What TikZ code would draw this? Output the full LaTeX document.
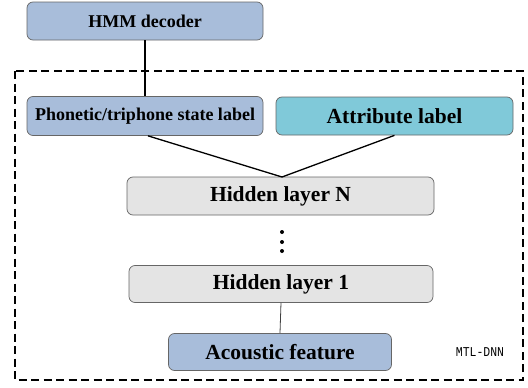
\documentclass[tikz,border=0pt]{standalone}
\usepackage{fontspec}
\setmainfont{Liberation Serif}
\newfontfamily\monofam{Liberation Mono}
\begin{document}
\begin{tikzpicture}[x=1pt,y=-1pt,
  box/.style={draw=black!60, line width=0.7pt, rounded corners=6pt, inner sep=0pt, font=\bfseries},
  bluebox/.style={box, fill=blueA},
  cyanbox/.style={box, fill=cyanA},
  graybox/.style={box, fill=grayA},
  conn/.style={line width=1.3pt, black},
  thinconn/.style={line width=0.8pt, black!75},
  frame/.style={line width=1.1pt, dash pattern=on 8pt off 4.5pt}
]
\definecolor{blueA}{HTML}{A8BDDA}
\definecolor{cyanA}{HTML}{80C9D9}
\definecolor{grayA}{HTML}{E4E4E4}
\useasboundingbox (0,0) rectangle (528,388);
\draw[frame] (15,71) rectangle (523,380);
\node[bluebox, minimum width=236pt, minimum height=38pt, font=\bfseries\fontsize{18}{20}\selectfont] (hmm) at (145,21) {HMM decoder};
\node[bluebox, minimum width=236pt, minimum height=39pt, font=\bfseries\fontsize{18}{20}\selectfont] (phon) at (145,116) {Phonetic/triphone state label};
\node[cyanbox, minimum width=237pt, minimum height=38pt, font=\bfseries\fontsize{21.5}{24}\selectfont] (attr) at (394.5,116) {Attribute label};
\node[graybox, minimum width=307pt, minimum height=38pt, font=\bfseries\fontsize{21.5}{24}\selectfont] (hn) at (280.5,196) {Hidden layer N};
\node[graybox, minimum width=304pt, minimum height=37pt, font=\bfseries\fontsize{21.5}{24}\selectfont] (h1) at (281,284) {Hidden layer 1};
\node[bluebox, minimum width=223pt, minimum height=37pt, font=\bfseries\fontsize{21.5}{24}\selectfont] (ac) at (280,352) {Acoustic feature};
\node[font=\monofam\fontsize{13.5}{15}\selectfont, inner sep=0pt, xscale=0.85] (mtl) at (480,352) {MTL-DNN};
\foreach \yy [count=\i] in {232,242,251} \fill (282,\yy) circle (2pt) coordinate (dot\i);
\coordinate (hnin) at (282,177);
\draw[conn] (hmm.south) -- (phon.north);
\draw[conn] (phon.south) ++(3,0) coordinate (pb) -- (hnin);
\draw[conn] (attr.south) coordinate (ab) -- (hnin);
\draw[thinconn] (h1.south) -- (ac.north);
\end{tikzpicture}
\end{document}
